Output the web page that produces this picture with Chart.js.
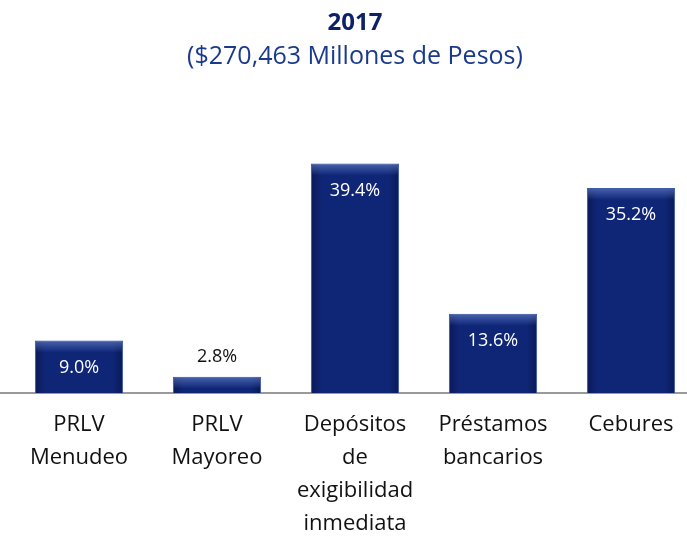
<!DOCTYPE html>
<html>
<head>
<meta charset="utf-8">
<script src="https://cdn.jsdelivr.net/npm/chart.js@4"></script>
<style>
  html, body { margin: 0; padding: 0; background: #fff; overflow: hidden; }
  #wrap { width: 700px; height: 536px; }
</style>
</head>
<body>
<div id="wrap"><canvas id="fundingChart"></canvas></div>
<script>
// Fondeo 2017, % del total
const categories = [
    ['PRLV', 'Menudeo'],
    ['PRLV', 'Mayoreo'],
    ['Depósitos', 'de', 'exigibilidad', 'inmediata'],
    ['Préstamos', 'bancarios'],
    ['Cebures']
];
const shares = [9.0, 2.8, 39.4, 13.6, 35.2];
const labelsAbove = [false, true, false, false, false];

const FONT = '"Open Sans", Lato, sans-serif';

// ========== Value labels, bar sheen, full-width baseline ==========
const barLabels = {
    id: 'barLabels',
    beforeDatasetsDraw(chart) {
        const ctx = chart.ctx;
        const y = chart.scales.y.getPixelForValue(0);
        ctx.save();
        ctx.strokeStyle = '#9a9a9a';
        ctx.lineWidth = 2;
        ctx.beginPath();
        ctx.moveTo(0, y);
        ctx.lineTo(chart.width, y);
        ctx.stroke();
        ctx.restore();
    },
    afterDatasetsDraw(chart) {
        const ctx = chart.ctx;
        const meta = chart.getDatasetMeta(0);
        ctx.save();
        // soft sheen like the original (lighter top, darker sides)
        meta.data.forEach(function (bar) {
            const left = bar.x - bar.width / 2;
            const h = bar.base - bar.y;
            const side = ctx.createLinearGradient(left, 0, left + bar.width, 0);
            side.addColorStop(0, 'rgba(0,0,30,0.35)');
            side.addColorStop(0.12, 'rgba(0,0,30,0)');
            side.addColorStop(0.88, 'rgba(0,0,30,0)');
            side.addColorStop(1, 'rgba(0,0,30,0.35)');
            ctx.fillStyle = side;
            ctx.fillRect(left + 1, bar.y + 1, bar.width - 2, h - 1);
            const top = ctx.createLinearGradient(0, bar.y, 0, bar.y + Math.min(12, h));
            top.addColorStop(0, 'rgba(120,150,220,0.55)');
            top.addColorStop(1, 'rgba(120,150,220,0)');
            ctx.fillStyle = top;
            ctx.fillRect(left + 1, bar.y + 1, bar.width - 2, Math.min(12, h) - 1);
        });
        ctx.font = '18px ' + FONT;
        ctx.textAlign = 'center';
        ctx.textBaseline = 'middle';
        meta.data.forEach(function (bar, i) {
            const txt = shares[i].toFixed(1) + '%';
            if (labelsAbove[i]) {
                ctx.fillStyle = '#111';
                ctx.fillText(txt, bar.x, bar.y - 20);
            } else {
                ctx.fillStyle = '#fff';
                ctx.fillText(txt, bar.x, bar.y + 27);
            }
        });
        ctx.restore();
    }
};

const ctx = document.getElementById('fundingChart').getContext('2d');
new Chart(ctx, {
    type: 'bar',
    data: {
        labels: categories,
        datasets: [{
            label: '2017',
            data: shares,
            backgroundColor: '#0f2677',
            borderColor: '#3a5aa8',
            borderWidth: 1,
            barPercentage: 0.64,
            categoryPercentage: 1
        }]
    },
    options: {
        responsive: true,
        maintainAspectRatio: false,
        animation: false,
        layout: { padding: { left: 10, right: 0, top: 9, bottom: -11 } },
        plugins: {
            legend: { display: false },
            tooltip: { enabled: false },
            title: {
                display: true,
                text: '2017',
                color: '#0d2266',
                font: { family: FONT, size: 24, weight: 'bold' },
                padding: { top: 0, bottom: 4 }
            },
            subtitle: {
                display: true,
                text: '($270,463 Millones de Pesos)',
                color: '#1a3a8c',
                font: { family: FONT, size: 25 },
                padding: { bottom: 59 }
            }
        },
        scales: {
            x: {
                grid: { display: false },
                border: { display: false },
                ticks: {
                    color: '#111',
                    padding: 7,
                    maxRotation: 0,
                    autoSkip: false,
                    font: { family: FONT, size: 22, lineHeight: 1.5 }
                }
            },
            y: {
                display: false,
                min: 0,
                max: 45
            }
        }
    },
    plugins: [barLabels]
});
</script>
</body>
</html>
